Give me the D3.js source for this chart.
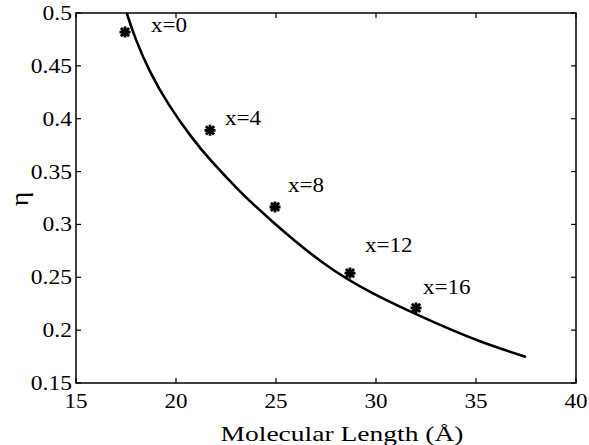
<!DOCTYPE html>
<html lang="en">
<head>
<meta charset="utf-8">
<title>eta vs molecular length</title>
<script src="https://d3js.org/d3.v7.min.js"></script>
<style>
  body { margin: 0; background: #fff; }
</style>
</head>
<body>
<script>
var pointL   = [17.45, 21.7, 24.95, 28.7, 32.0];
var pointEta = [0.482, 0.389, 0.3165, 0.254, 0.221];
var pointLabels = ["x=0", "x=4", "x=8", "x=12", "x=16"];

var fitL   = [17.535, 17.95, 18.665, 19.615, 20.785, 21.7, 23.2, 24.7, 27.4, 29.7, 32.9, 35.2, 37.5];
var fitEta = [0.5, 0.4761, 0.4445, 0.413, 0.3818, 0.3609, 0.3307, 0.3042, 0.2611, 0.2351, 0.2072, 0.1888, 0.1746];

var xTicks = [15, 20, 25, 30, 35, 40];
var yTicks = [0.15, 0.2, 0.25, 0.3, 0.35, 0.4, 0.45, 0.5];

// where each "x=.." label sits relative to its star (px)
var labelOffsets = [[26, 0], [15, -5], [13, -15], [15, -21], [7, -14]];

var W = 589, H = 445;
var pL = 76, pR = 576, pT = 13, pB = 383;   // plot box in pixels
var font = "'Liberation Serif', 'Times New Roman', Times, serif";

var svg = d3.select("body").append("svg").attr("width", W).attr("height", H);

var x = d3.scaleLinear().domain([15, 40]).range([pL, pR]);
var y = d3.scaleLinear().domain([0.15, 0.5]).range([pB, pT]);

// text in the scanned figure is stretched horizontally, so scale it a bit
function label(px, py, str, anchor, size, sx, rot) {
  return svg.append("text")
    .attr("transform", "translate(" + px + "," + py + ")" + (rot ? " rotate(" + rot + ")" : "") + " scale(" + sx + ",1)")
    .attr("text-anchor", anchor)
    .style("font-family", font)
    .style("font-size", size + "px")
    .attr("fill", "#000")
    .text(str);
}

// ticks on all four sides, pointing inward
var tl = 5;
var axisG = svg.append("g").attr("stroke", "#000").attr("stroke-width", 1.2);
xTicks.forEach(function (t) {
  axisG.append("line").attr("x1", x(t)).attr("x2", x(t)).attr("y1", pB).attr("y2", pB - tl);
  axisG.append("line").attr("x1", x(t)).attr("x2", x(t)).attr("y1", pT).attr("y2", pT + tl);
  label(x(t), pB + 25, t, "middle", 21, 1.1);
});
yTicks.forEach(function (t) {
  axisG.append("line").attr("x1", pL).attr("x2", pL + tl).attr("y1", y(t)).attr("y2", y(t));
  axisG.append("line").attr("x1", pR).attr("x2", pR - tl).attr("y1", y(t)).attr("y2", y(t));
  label(pL - 4, y(t) + 7, d3.format("")(t), "end", 21, 1.12);
});

svg.append("rect")
  .attr("x", pL).attr("y", pT)
  .attr("width", pR - pL).attr("height", pB - pT)
  .attr("fill", "none").attr("stroke", "#000").attr("stroke-width", 1.5);

// fitted curve
var fit = fitL.map(function (d, i) { return [d, fitEta[i]]; });
svg.append("path")
  .datum(fit)
  .attr("fill", "none")
  .attr("stroke", "#000")
  .attr("stroke-width", 2.6)
  .attr("d", d3.line().x(function (d) { return x(d[0]); }).y(function (d) { return y(d[1]); }).curve(d3.curveBasis));

// asterisk markers (4 strokes, like matlab '*')
var r = 5.5;
var star = "M" + (-r) + ",0L" + r + ",0M0," + (-r) + "L0," + r +
  "M" + (-r * 0.75) + "," + (-r * 0.75) + "L" + (r * 0.75) + "," + (r * 0.75) +
  "M" + (-r * 0.75) + "," + (r * 0.75) + "L" + (r * 0.75) + "," + (-r * 0.75);
pointL.forEach(function (d, i) {
  svg.append("path")
    .attr("d", star)
    .attr("transform", "translate(" + x(d) + "," + y(pointEta[i]) + ")")
    .attr("stroke", "#000").attr("stroke-width", 2.8).attr("fill", "none");
  label(x(d) + labelOffsets[i][0], y(pointEta[i]) + labelOffsets[i][1], pointLabels[i], "start", 21, 1.1);
});

// axis titles
label(342, 441, "Molecular Length (Å)", "middle", 21.5, 1.28);
label(28, 199, "η", "middle", 25, 1.1, -90);
</script>
</body>
</html>
